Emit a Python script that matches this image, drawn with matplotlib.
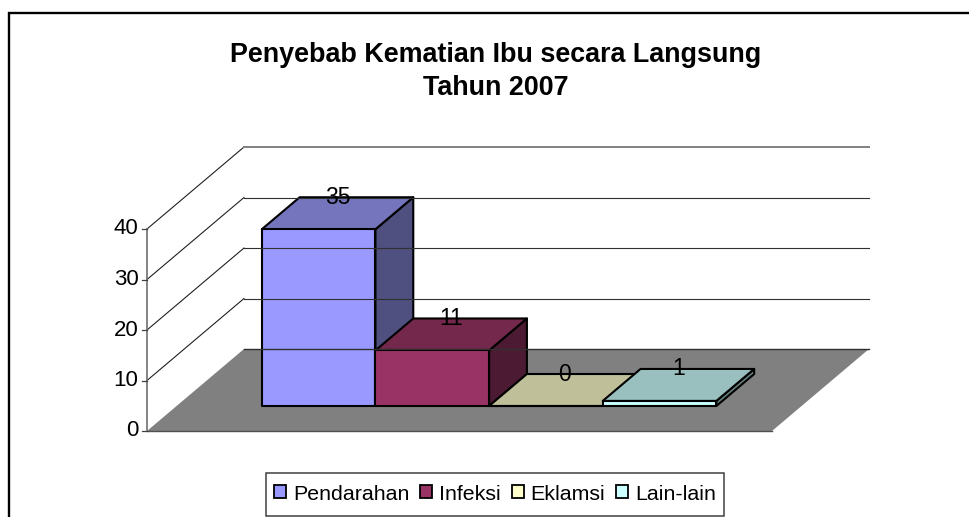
import matplotlib
matplotlib.use('Agg')
import matplotlib.pyplot as plt
from matplotlib.patches import Polygon, Patch, Rectangle

### Data
categories = ['Pendarahan', 'Infeksi', 'Eklamsi', 'Lain-lain']
values = [35, 11, 0, 1]
yticks = [0, 10, 20, 30, 40]
front_colors = ['#9999FF', '#993366', '#FFFFCC', '#CCFFFF']
top_colors = ['#7575BD', '#73284C', '#BFBF99', '#99BFBF']
side_colors = ['#4F4F80', '#4D1A33', '#808066', '#668080']

### Projection of the oblique chart box on to the page (pixels)
x0, y0 = 147, 431      # front left corner of the floor
floor_w = 625          # width of floor in x
depth_x, depth_y = 97, 82
px_per_unit = 5.05
cat_w = floor_w / 5.5
gap = 0.75 * cat_w
depth_front, depth_back = 0.305, 0.695

def proj(xfrac, depth, value):
    """xfrac in category units, depth 0-1, value in data units"""
    return (x0 + (gap + xfrac * cat_w) + depth * depth_x,
            y0 - depth * depth_y - value * px_per_unit)

def wall(depth, value):
    return (x0 + depth * depth_x, y0 - depth * depth_y - value * px_per_unit)

plt.rcParams['font.family'] = ['Liberation Sans', 'DejaVu Sans']
fig = plt.figure(figsize=(9.7, 5.17), dpi=100)
ax = fig.add_axes([0, 0, 1, 1])
ax.set_xlim(0, 970)
ax.set_ylim(517, 0)
ax.set_axis_off()

### Outer frame, only left and top are inside the picture
ax.plot([9, 9, 970], [517, 12.5, 12.5], color='black', lw=1.7, solid_joinstyle='miter')

### Title
ax.text(496, 55, 'Penyebab Kematian Ibu secara Langsung', fontsize=19.4, fontweight='bold', ha='center', va='center')
ax.text(496, 88, 'Tahun 2007', fontsize=19.4, fontweight='bold', ha='center', va='center')

### Walls
for t in yticks[1:]:
    a = wall(0, t)
    b = wall(1, t)
    ax.plot([a[0], b[0]], [a[1], b[1]], color='#202020', lw=0.8)
    if t == yticks[-1]:
        ax.plot([b[0], 869], [b[1], b[1]], color='#808080', lw=1.4)
    else:
        ax.plot([b[0], 869], [b[1], b[1]], color='#303030', lw=0.8)

### Floor
floor = [wall(0, 0), (x0 + floor_w, y0), (x0 + floor_w + depth_x, y0 - depth_y), wall(1, 0)]
ax.add_patch(Polygon(floor, closed=True, facecolor='#808080', edgecolor='none'))
ax.plot([floor[3][0], floor[2][0]], [floor[3][1], floor[2][1]], color='#303030', lw=1)
ax.plot([floor[0][0], floor[1][0]], [floor[0][1], floor[1][1]], color='#505050', lw=1)

### Y axis and ticks
ax.plot([x0, x0], [wall(0, yticks[0])[1], wall(0, yticks[-1])[1]], color='#707070', lw=1.2)
for t in yticks:
    a = wall(0, t)
    ax.plot([a[0] - 5, a[0]], [a[1], a[1]], color='#404040', lw=0.9)
    ax.text(a[0] - 8.5, a[1], str(t), fontsize=16, ha='right', va='center')

### Bars
for i in range(len(values)):
    v = values[i]
    fl = proj(i, depth_front, 0)
    fr = proj(i + 1, depth_front, 0)
    tl = proj(i, depth_front, v)
    tr = proj(i + 1, depth_front, v)
    bl = proj(i, depth_back, v)
    br = proj(i + 1, depth_back, v)
    brb = proj(i + 1, depth_back, 0)
    ax.add_patch(Polygon([fr, brb, br, tr], closed=True, facecolor=side_colors[i], edgecolor='black', lw=1.5, joinstyle='round'))
    ax.add_patch(Polygon([tl, tr, br, bl], closed=True, facecolor=top_colors[i], edgecolor='black', lw=1.5, joinstyle='round'))
    ax.add_patch(Polygon([fl, fr, tr, tl], closed=True, facecolor=front_colors[i], edgecolor='black', lw=1.5, joinstyle='round'))

### Data labels, centred on the top face in x and on its back edge in y
for i in range(len(values)):
    lx = proj(i + 0.5, (depth_front + depth_back) / 2, values[i])[0]
    ly = proj(i + 0.5, depth_back, values[i])[1]
    ax.text(lx, ly, str(values[i]), fontsize=16.5, ha='center', va='center', zorder=10)

### Legend
ax.add_patch(Rectangle((266, 473), 458, 43, facecolor='white', edgecolor='#404040', lw=1.1))
handles = [Patch(facecolor=c, edgecolor='black', lw=1.3) for c in front_colors]
leg = ax.legend(handles, categories, loc='center', bbox_to_anchor=(495, 494), bbox_transform=ax.transData,
                ncol=4, fontsize=15.4, frameon=False,
                handlelength=0.56, handleheight=0.56, handletextpad=0.33, columnspacing=0.5, borderpad=0)

fig.savefig('out.png', dpi=100)
